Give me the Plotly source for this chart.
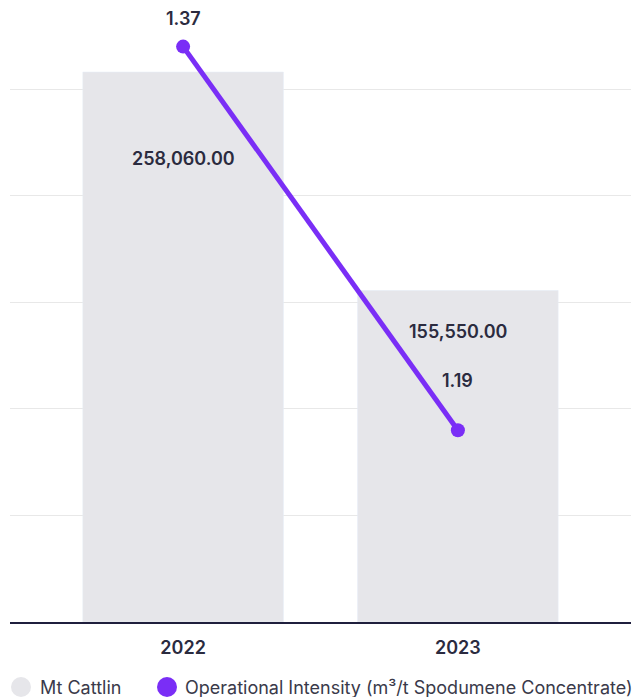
import plotly.graph_objects as go

years = ["2022", "2023"]
water_use = [258060.00, 155550.00]
intensity = [1.37, 1.19]
bar_label_shift = [-86, -41]
line_label_shift = [28, 50]
legend_names = ["Mt Cattlin", "Operational Intensity (m³/t Spodumene Concentrate)"]

BAR_COLOR = "#e6e6ea"
PURPLE = "#7a2ef6"
TEXT = "#2b2b3f"
FONT = "Inter"

W, H = 641, 697
L, R, T, B = 10, 10, 4, 75
PW, PH = W - L - R, H - T - B

fig = go.Figure()

fig.add_trace(go.Bar(
    x=years, y=water_use, name=legend_names[0],
    marker=dict(color=BAR_COLOR), width=0.73,
    showlegend=False, hoverinfo="skip",
))
fig.add_trace(go.Scatter(
    x=years, y=intensity, yaxis="y2", mode="lines+markers",
    name=legend_names[1],
    line=dict(color=PURPLE, width=5), marker=dict(color=PURPLE, size=14),
    showlegend=False, hoverinfo="skip",
))

label_font = dict(family=FONT, size=18, color=TEXT, weight=600)
annotations = []
for i, (v, s) in enumerate(zip(water_use, bar_label_shift)):
    annotations.append(dict(
        x=i, y=v, xref="x", yref="y", text=f"{v:,.2f}", showarrow=False,
        yshift=s, font=label_font,
    ))
for i, (v, s) in enumerate(zip(intensity, line_label_shift)):
    annotations.append(dict(
        x=i, y=v, xref="x", yref="y2", text=f"{v:.2f}".rstrip("0"),
        showarrow=False, yshift=s, font=label_font,
    ))

# hand-made legend along the bottom (round swatches, fixed spacing)
shapes = []
leg_y = -(687 - (H - B)) / PH
for name, color, cx, tx in zip(legend_names, [BAR_COLOR, PURPLE], [21, 167], [38, 183]):
    shapes.append(dict(
        type="circle", xref="paper", yref="paper",
        xsizemode="pixel", ysizemode="pixel",
        xanchor=(cx - L) / PW, yanchor=leg_y,
        x0=-10, x1=10, y0=-10, y1=10,
        fillcolor=color, line=dict(width=0),
    ))
    annotations.append(dict(
        x=(tx - L) / PW, y=leg_y, xref="paper", yref="paper",
        xanchor="left", yanchor="middle", text=name, showarrow=False,
        font=dict(family=FONT, size=18, color="#3a3a4a"),
    ))

fig.update_layout(
    width=W, height=H,
    margin=dict(l=L, r=R, t=T, b=B, autoexpand=False),
    plot_bgcolor="white", paper_bgcolor="white",
    font=dict(family=FONT, color=TEXT),
    showlegend=False,
    xaxis=dict(
        type="category", range=[-0.63, 1.63],
        showline=True, linecolor="#1f1f3d", linewidth=2,
        showgrid=False, ticks="", ticklabelstandoff=8,
        tickfont=dict(family=FONT, size=18, color=TEXT, weight=600),
    ),
    yaxis=dict(
        range=[0, 290000], dtick=50000, showticklabels=False,
        showgrid=True, gridcolor="#e8e8e8", gridwidth=1, zeroline=False,
    ),
    yaxis2=dict(
        range=[1.1, 1.39], overlaying="y", side="right",
        showgrid=False, showticklabels=False, zeroline=False,
    ),
    annotations=annotations,
    shapes=shapes,
)

fig.write_html("out.html", config={"displayModeBar": False},
               post_script="document.body.style.margin='0px';")
